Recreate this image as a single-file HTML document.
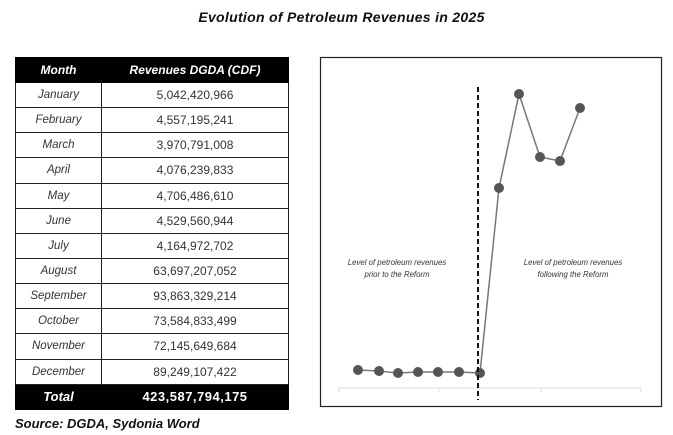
<!DOCTYPE html>
<html><head><meta charset="utf-8"><style>
body{margin:0;width:673px;height:435px;background:#fff;font-family:"Liberation Sans",sans-serif;position:relative;overflow:hidden}
.title{position:absolute;top:9px;left:0;width:673px;text-align:center;font-weight:bold;font-style:italic;font-size:14px;color:#111;letter-spacing:0.3px;padding-left:10px;box-sizing:border-box}
table{position:absolute;left:15px;top:57px;border-collapse:collapse;width:274px}
td,th{height:24.15px;padding:0;border:1.5px solid #222;font-size:12px;text-align:center;color:#333}
th{background:#000;color:#fff;font-style:italic;font-weight:bold;height:24px;border-color:#000}
td.m{width:85px;font-style:italic;font-size:11.5px}
tr.t td{background:#000;color:#fff;font-weight:bold;font-style:italic;font-size:13px;border-color:#000}
tr.t td.v{font-style:normal;letter-spacing:0.5px}
.src{position:absolute;left:15px;top:416px;font-weight:bold;font-style:italic;font-size:13px;color:#111}
</style></head><body>
<div class="title">Evolution of Petroleum Revenues in 2025</div>
<table>
<tr><th>Month</th><th>Revenues DGDA (CDF)</th></tr>
<tr><td class="m">January</td><td>5,042,420,966</td></tr>
<tr><td class="m">February</td><td>4,557,195,241</td></tr>
<tr><td class="m">March</td><td>3,970,791,008</td></tr>
<tr><td class="m">April</td><td>4,076,239,833</td></tr>
<tr><td class="m">May</td><td>4,706,486,610</td></tr>
<tr><td class="m">June</td><td>4,529,560,944</td></tr>
<tr><td class="m">July</td><td>4,164,972,702</td></tr>
<tr><td class="m">August</td><td>63,697,207,052</td></tr>
<tr><td class="m">September</td><td>93,863,329,214</td></tr>
<tr><td class="m">October</td><td>73,584,833,499</td></tr>
<tr><td class="m">November</td><td>72,145,649,684</td></tr>
<tr><td class="m">December</td><td>89,249,107,422</td></tr>
<tr class="t"><td class="m">Total</td><td class="v">423,587,794,175</td></tr>
</table>
<div class="src">Source: DGDA, Sydonia Word</div>
<svg style="position:absolute;left:0;top:0" width="673" height="435">
<rect x="320.5" y="57.5" width="341" height="349" fill="#fff" stroke="#222" stroke-width="1.2"/>
<line x1="339" y1="388" x2="641" y2="388" stroke="#ddd"/>
<g stroke="#ddd"><line x1="339" y1="388" x2="339" y2="392"/><line x1="439" y1="388" x2="439" y2="392"/><line x1="541" y1="388" x2="541" y2="392"/><line x1="641" y1="388" x2="641" y2="392"/></g>
<polyline fill="none" stroke="#777" stroke-width="1.5" points="358,370 379,371 398,373 418,372 438,372 459,372 480,373 499,188 519,94 540,157 560,161 580,108"/>
<g fill="#555">
<circle cx="358" cy="370" r="5"/><circle cx="379" cy="371" r="5"/><circle cx="398" cy="373" r="5"/><circle cx="418" cy="372" r="5"/><circle cx="438" cy="372" r="5"/><circle cx="459" cy="372" r="5"/><circle cx="480" cy="373" r="5"/><circle cx="499" cy="188" r="5"/><circle cx="519" cy="94" r="5"/><circle cx="540" cy="157" r="5"/><circle cx="560" cy="161" r="5"/><circle cx="580" cy="108" r="5"/>
</g>
<line x1="478" y1="87" x2="478" y2="400" stroke="#111" stroke-width="2" stroke-dasharray="5,3"/>
<g font-family="Liberation Sans,sans-serif" font-size="7.8" font-style="italic" fill="#333" text-anchor="middle">
<text x="397" y="265">Level of petroleum revenues</text><text x="397" y="277">prior to the Reform</text>
<text x="573" y="265">Level of petroleum revenues</text><text x="573" y="277">following the Reform</text>
</g>
</svg>
</body></html>
